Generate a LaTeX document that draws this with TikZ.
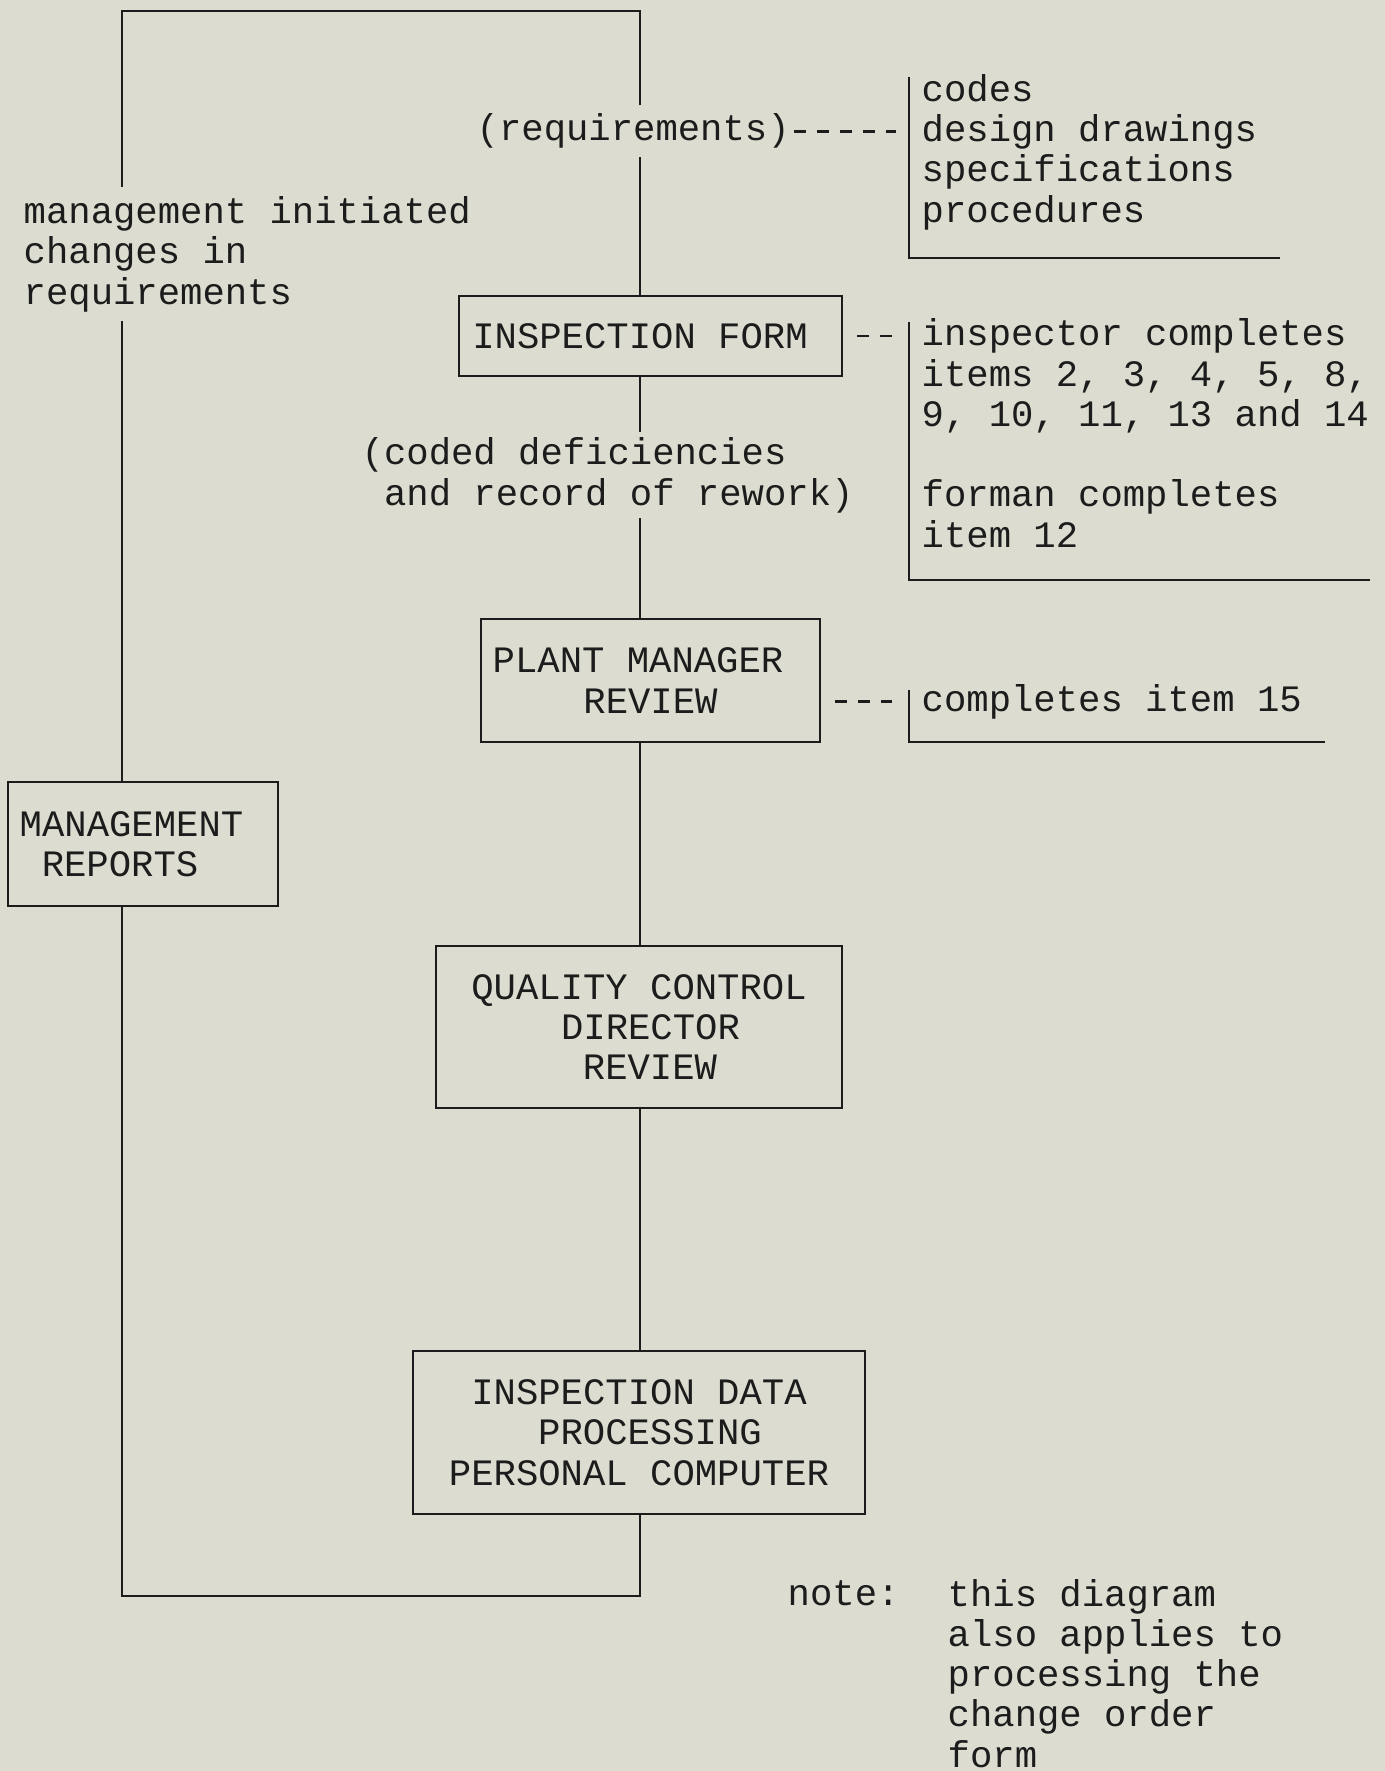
\documentclass[tikz,border=0pt]{standalone}
\usepackage{fontspec}
\setmonofont{Liberation Mono}
\usetikzlibrary{calc}
\definecolor{paper}{RGB}{220,221,208}
\definecolor{ink}{RGB}{28,28,28}

\begin{document}
\begin{tikzpicture}[x=0.1mm, y=-0.1mm,
    every node/.style={font=\ttfamily\fontsize{10.6}{11.45}\selectfont, text=ink},
    box/.style={draw=ink, line width=0.75pt, align=center, inner sep=0pt},
    txt/.style={align=left, inner sep=0pt, anchor=base west},
    flow/.style={draw=ink, line width=0.6pt},
    bracket/.style={draw=ink, line width=0.7pt},
    typed/.style={draw=ink, line width=0.8pt, dash pattern=on 1.2mm off 1.1mm}]
    \useasboundingbox (0,0) rectangle (1385,1771);
    \fill[paper] (0,0) rectangle (1385,1771);
    \coordinate (tl) at (122,11);
    \coordinate (tr) at (640,11);
    \coordinate (bl) at (122,1596);
    \coordinate (br) at (640,1596);
    \coordinate (b1) at (909,77);
    \coordinate (b1e) at (1280,258);
    \coordinate (b2) at (909,322);
    \coordinate (b2e) at (1370,580);
    \coordinate (b3) at (909,690);
    \coordinate (b3e) at (1325,742);

    \node (form) [box, minimum width=38.3mm, minimum height=8mm] at (650.5,336) {INSPECTION FORM\kern2.1mm};
    \node (pm) [box, minimum width=33.9mm, minimum height=12.3mm] at (650.5,680.5) {PLANT MANAGER\kern2.5mm\\REVIEW};
    \node (mr) [box, minimum width=27mm, minimum height=12.4mm] at (143,844) {MANAGEMENT\kern2.3mm\\REPORTS\kern4.6mm};
    \node (qc) [box, minimum width=40.6mm, minimum height=16.2mm] at (639,1027) {QUALITY CONTROL\\\hspace*{2.3mm}DIRECTOR\\\hspace*{2.2mm}REVIEW};
    \node (idp) [box, minimum width=45.2mm, minimum height=16.3mm] at (639,1432.5) {INSPECTION DATA\\\hspace*{2.2mm}PROCESSING\\PERSONAL COMPUTER};

    % base anchors sit on the last line of each block
    \node (req) [txt, inner ysep=0.8mm] at (476,141) {(requirements)};
    \node (codes) [txt] at (921,222) {codes\\design drawings\\specifications\\procedures};
    \node (mgmt) [txt, inner ysep=0.9mm] at (23,304) {management initiated\\changes in\\requirements};
    \node (insp) [txt] at (921,547) {inspector completes\\items 2, 3, 4, 5, 8,\\9, 10, 11, 13 and 14\\[11.45pt]forman completes\\item 12};
    \node (coded) [txt, inner ysep=0.5mm] at (361,505) {(coded deficiencies\\\hphantom{(}and record of rework)};
    \node (item15) [txt] at (921,711) {completes item 15};
    \node (note) [txt] at (787,1605) {note:};
    \node (notetext) [txt] at (947,1767) {this diagram\\also applies to\\processing the\\change order\\form};

    \draw[flow] (req.north -| tr) -- (tr) -- (tl) -- (mgmt.north -| tl);
    \draw[flow] (req.south -| tr) -- (form.north -| tr);
    \draw[flow] (form.south -| tr) -- (coded.north -| tr);
    \draw[flow] (coded.south -| tr) -- (pm.north -| tr);
    \draw[flow] (pm.south -| tr) -- (qc.north -| tr);
    \draw[flow] (qc.south -| tr) -- (idp.north -| tr);
    \draw[flow] (idp.south -| br) -- (br) -- (bl) -- (mr.south -| bl);
    \draw[flow] (mr.north -| tl) -- (mgmt.south -| tl);

    \draw[bracket] (b1) |- (b1e);
    \draw[bracket] (b2) |- (b2e);
    \draw[bracket] (b3) |- (b3e);

    \draw[typed, shorten <=0.4mm, shorten >=1.3mm] (req.east) -- (b1 |- req.east);
    \draw[typed, shorten <=1.4mm, shorten >=1.7mm] (form.east) -- (b2 |- form.east);
    \draw[typed, shorten <=1.4mm, shorten >=1.7mm] (pm.east |- item15) -- (b3 |- item15);
\end{tikzpicture}
\end{document}
